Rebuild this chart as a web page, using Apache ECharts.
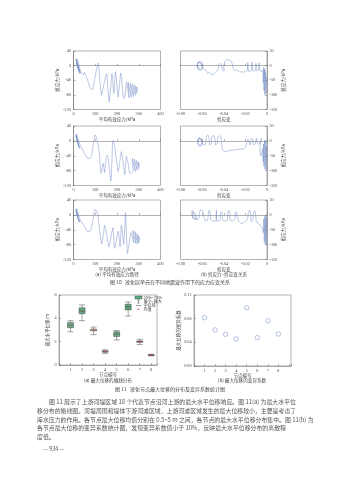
<!DOCTYPE html>
<html><head><meta charset="utf-8">
<script src="https://cdn.jsdelivr.net/npm/echarts@6/dist/echarts.min.js"></script>
<style>html,body{margin:0;padding:0;background:#fff}#c{width:339px;height:480px}</style>
</head><body><div id="c"></div>
<script>
// ---------- data ----------
const pathTicksX = [0, 100, 200, 300, 400];
const pathTicksY = [-120, -80, -40, 0, 40];
const strainTicksX = [-0.08, -0.06, -0.04, -0.02, 0];
const strainTicksY = [-150, -100, -50, 0, 50];

// (a) stress paths: [mean effective stress kPa, shear stress kPa]
const pathWave1 = [[296,-67],[290,-58],[292,-76],[282,-54],[285,-81],[272,-50],[276,-85],[262,-48],[266,-87],[252,-46],[255,-88],[244,-45],
[236,-86],[230,-90],[224,-55],[217,-20],[211,-55],[205,-86],[199,-50],[193,-17],[189,-45],[186,-76],[181,-48],[177,-22],[171,-60],[164,-99],[158,-60],[152,-22],[140,-50],[129,-81],[121,-40],[114,7],[108,-5],[102,-22],[92,-55],[84,-66],[76,-60],[66,-42],[58,-28],[50,-18],[45,-25],[40,-22],
[34,-18],[28,-6],[22,8],[17,19],[14,14],[16,2],[22,-12],[30,-22],[26,-14],[19,0],[14,12],[12,18],[15,8],[21,-6],[27,-18],[33,-20],[24,-8],[17,6],[13,16],[16,12],[22,-2],[28,-14],[20,-6],[15,4]];
const pathWave2 = [[305,-67],[298,-57],[301,-75],[290,-53],[293,-79],[280,-49],[284,-82],[270,-47],[274,-81],
[259,-87],[251,-60],[243,-42],[239,-70],[236,-91],[228,-55],[220,-29],[212,-60],[205,-82],[196,-45],[188,-10],[181,1],[177,-50],[172,-108],[165,-75],[156,-38],[150,-45],[143,-85],[136,-60],[127,-87],[118,-30],[108,5],[99,16],[92,-5],[84,-35],[75,-47],[65,-47],[55,-38],[45,-28],[38,-20],
[32,-14],[26,-4],[20,8],[15,18],[12,15],[14,4],[20,-8],[27,-18],[23,-10],[17,2],[12,14],[11,17],[14,8],[19,-4],[25,-16],[29,-20],[21,-6],[16,6],[12,12],[15,10],[20,-2]];
const pathWave3 = [[305,-67],[299,-56],[302,-75],[292,-50],[295,-78],[283,-45],[287,-77],[273,-42],[277,-75],[264,-48],
[255,-80],[248,-104],[244,-60],[239,6],[235,-40],[231,-79],[226,-55],[220,-28],[217,-60],[214,-86],[210,-60],[205,-44],[197,-70],[189,-90],[185,-60],[181,-35],[172,-60],[163,-86],[153,-55],[143,-28],[137,-55],[130,-79],[120,-40],[110,5],[99,15],[92,-5],[84,-30],[74,-45],[65,-45],[55,-35],[45,-26],[38,-20],
[32,-15],[26,-5],[20,7],[15,17],[12,14],[14,3],[20,-9],[27,-19],[22,-10],[16,3],[12,13],[11,16],[14,7],[19,-5],[25,-17],[30,-19],[21,-7],[16,5],[12,11],[15,9],[20,-3]];

// (b) stress-strain: [shear strain, shear stress kPa]
const loopWave1 = [[0,-67],[-0.0005,-40],[-0.001,-95],[-0.0015,-20],[-0.002,-100],[-0.0022,-10],[-0.0028,-85],[-0.003,-5],[-0.0035,-60],[-0.004,-15],[-0.005,-20],
[-0.0065,-18],[-0.0072,10],[-0.0078,-15],[-0.0095,-17],[-0.0102,8],[-0.0108,-17],[-0.013,-18],[-0.0138,12],[-0.0145,-16],[-0.017,-20],[-0.0178,10],[-0.0185,-18],[-0.022,-22],[-0.026,-20],[-0.028,-14],[-0.0295,-18],
[-0.031,-12],[-0.032,5],[-0.034,18],[-0.037,20],[-0.039,14],[-0.040,-5],[-0.0395,-18],[-0.041,-16],[-0.042,0],[-0.043,8],[-0.0445,3],[-0.045,-12],[-0.047,-20],[-0.049,-28],[-0.051,-32],[-0.053,-22],[-0.055,-26],[-0.057,-14],
[-0.059,-10],[-0.061,5],[-0.0635,12],[-0.0645,5],[-0.0635,-12],[-0.061,-16],[-0.0595,-5],[-0.06,10],[-0.062,14],[-0.064,8],[-0.0645,-8],[-0.0625,-14],[-0.06,-8],[-0.0605,6],[-0.063,13],[-0.0642,0],[-0.0625,-10]];
const loopWave2 = [[0,-67],[-0.0004,-20],[-0.0008,-97],[-0.0012,0],[-0.0018,-95],[-0.0022,3],[-0.0028,-85],[-0.0032,-10],[-0.0036,-70],[-0.004,-25],[-0.0055,-50],[-0.0065,-30],[-0.006,-5],[-0.005,8],[-0.0075,-12],[-0.009,-5],[-0.0098,8],[-0.0108,-10],[-0.0125,-14],[-0.0132,5],[-0.0145,8],[-0.0152,-8],[-0.0158,-14],[-0.0168,0],[-0.0178,6],[-0.019,-10],[-0.0205,-25],[-0.025,-28],[-0.03,-30],[-0.035,-33],[-0.0395,-36],[-0.041,-30],[-0.042,-10],[-0.0425,10],[-0.044,18],[-0.0455,12],[-0.0462,-10],[-0.0475,-14],[-0.048,5],[-0.0495,19],[-0.051,14],[-0.0515,-8],[-0.053,-14],[-0.0535,5],[-0.0545,20],[-0.056,15],[-0.0565,-5],[-0.058,-15],[-0.0595,-10],[-0.0605,2],[-0.062,9],[-0.0635,6],[-0.064,-8],[-0.0625,-18],[-0.0605,-14],[-0.0598,-2],[-0.0612,8],[-0.063,10],[-0.0642,0],[-0.0635,-12],[-0.0615,-16],[-0.06,-6],[-0.061,6],[-0.0628,9],[-0.0638,-4]];
const loopWave3 = [[0,-67],[-0.0004,-10],[-0.0008,-102],[-0.0012,0],[-0.0016,-98],[-0.002,-5],[-0.0025,-90],[-0.003,-15],[-0.0035,-60],[-0.005,-40],[-0.008,-30],[-0.0098,-23],[-0.0105,0],[-0.0112,14],[-0.0125,10],[-0.013,-15],[-0.0145,-23],[-0.015,0],[-0.0158,16],[-0.017,12],[-0.0178,-8],[-0.0192,-20],[-0.021,-25],[-0.024,-29],[-0.026,-22],[-0.0275,-5],[-0.0282,10],[-0.0292,8],[-0.0298,-15],[-0.032,-20],[-0.034,-18],[-0.0345,5],[-0.0352,15],[-0.0362,10],[-0.0366,-17],[-0.039,-20],[-0.041,-18],[-0.0414,2],[-0.0422,10],[-0.043,4],[-0.0435,-18],[-0.0455,-22],[-0.0466,-20],[-0.0468,15],[-0.047,-20],[-0.05,-21],[-0.052,-15],[-0.0525,8],[-0.0535,16],[-0.0545,-5],[-0.055,-19],[-0.057,-20],[-0.0585,-5],[-0.0595,12],[-0.061,18],[-0.0625,8],[-0.063,-10],[-0.0645,-17],[-0.066,-12],[-0.0672,2],[-0.0685,12],[-0.0695,14],[-0.069,-2],[-0.067,-16],[-0.065,-14],[-0.066,0],[-0.068,10],[-0.0693,6],[-0.0688,-10],[-0.0665,-12]];

// box plot: node number, [min, Q1, median, Q3, max], mean
const nodeIds = [1, 2, 3, 4, 5, 6, 7, 8];
const dispMin = [2.85, 3.8, 2.6, 1.0, 2.15, 4.2, 1.75, 0.78];
const dispQ1 = [3.2, 4.4, 2.92, 1.1, 2.45, 4.72, 1.95, 0.82];
const dispMedian = [3.42, 4.62, 3.0, 1.15, 2.65, 5.0, 2.0, 0.85];
const dispQ3 = [3.65, 4.9, 3.08, 1.22, 2.85, 5.2, 2.06, 0.88];
const dispMax = [3.8, 5.15, 3.25, 1.3, 2.95, 5.4, 2.2, 0.92];
const dispMean = [3.42, 4.62, 3.0, 1.15, 2.65, 4.98, 2.0, 0.85];
const boxColors = ['#6db58c', '#5dad84', '#cfcabd', '#a7b3bd', '#60b08a', '#59aa80', '#8d7275', '#c66c7c'];
// coefficient of variation
const dispCV = [0.0816, 0.061, 0.0535, 0.0456, 0.0985, 0.048, 0.0765, 0.054];

// ---------- layout ----------
const NUM = 'Liberation Serif';
const CJK = 'Noto Sans CJK SC';
const TXT = '#444';
const AX = '#666';
const LINE = '#6683c4';

const grids = [
  {left: 73.5, top: 51, width: 87, height: 58.5},
  {left: 180.5, top: 51, width: 86.5, height: 58.5},
  {left: 73.5, top: 126, width: 87, height: 59.5},
  {left: 180.5, top: 126, width: 86.5, height: 59.5},
  {left: 73.5, top: 200, width: 87, height: 59.5},
  {left: 180.5, top: 200, width: 86.5, height: 59.5},
  {left: 59, top: 295, width: 98, height: 70},
  {left: 194, top: 295, width: 97, height: 71}
].map(g => Object.assign({show: true, borderColor: AX, borderWidth: 0.5, backgroundColor: 'transparent'}, g));

function axisBase(extra) {
  return Object.assign({
    type: 'value',
    axisLine: {show: true, lineStyle: {color: AX, width: 0.5}},
    axisTick: {show: true, inside: true, length: 2, lineStyle: {color: AX, width: 0.5}},
    splitLine: {show: false},
    axisLabel: {fontSize: 4.2, color: TXT, fontFamily: NUM, margin: 2.5},
    nameTextStyle: {fontSize: 4.5, color: TXT, fontFamily: CJK},
    nameLocation: 'middle'
  }, extra);
}

const pathX = i => axisBase({gridIndex: i, min: pathTicksX[0], max: pathTicksX[pathTicksX.length-1], interval: 100, name: '平均有效应力/kPa', nameGap: 8});
const pathY = i => axisBase({gridIndex: i, min: pathTicksY[0], max: pathTicksY[pathTicksY.length-1], interval: 40, name: '剪应力/kPa', nameGap: 11});
const strainX = (i, nm) => axisBase({gridIndex: i, min: strainTicksX[0], max: 0, interval: 0.02, name: nm, nameGap: 8,
  axisLabel: {fontSize: 4.2, color: TXT, fontFamily: NUM, margin: 2.5, formatter: v => Math.abs(v) < 1e-9 ? '0' : v.toFixed(2)}});
const strainY = i => axisBase({gridIndex: i, position: 'right', min: strainTicksY[0], max: 50, interval: 50, name: '剪应力/kPa', nameGap: 12});

const xAxes = [pathX(0), strainX(1, '剪应变'), pathX(2), strainX(3, '剪应变'), pathX(4), strainX(5, '剪应变'),
  axisBase({gridIndex: 6, min: 0, max: 8.5, interval: 1, name: '节点编号', nameGap: 7.5,
    axisLabel: {fontSize: 4.2, color: TXT, fontFamily: NUM, margin: 2.5, formatter: v => (Number.isInteger(v) && v >= 1 && v <= 8) ? String(v) : ''}}),
  axisBase({gridIndex: 7, min: 0, max: 9.2, interval: 1, name: '节点编号', nameGap: 7.5,
    axisLabel: {fontSize: 4.2, color: TXT, fontFamily: NUM, margin: 2.5, formatter: v => (Number.isInteger(v) && v >= 1 && v <= 8) ? String(v) : ''}})
];
const yAxes = [pathY(0), strainY(1), pathY(2), strainY(3), pathY(4), strainY(5),
  axisBase({gridIndex: 6, min: 0, max: 6, interval: 2, name: '最大水平位移/m', nameGap: 9}),
  axisBase({gridIndex: 7, min: 0, max: 0.12, interval: 0.04, name: '最大位移的变异系数', nameGap: 13,
    axisLabel: {fontSize: 4.2, color: TXT, fontFamily: NUM, margin: 2.5, formatter: v => v.toFixed(2)}})
];

function curve(i, data) {
  return {type: 'line', xAxisIndex: i, yAxisIndex: i, data: data, showSymbol: false, smooth: 0.2,
    lineStyle: {color: LINE, width: 0.5, opacity: 0.9}, silent: true, animation: false};
}

const boxData = nodeIds.map((n, k) => ({
  value: [n, dispMin[k], dispQ1[k], dispMedian[k], dispQ3[k], dispMax[k]],
  itemStyle: {color: boxColors[k], borderColor: '#4a4a4a', borderWidth: 0.5}
}));

const series = [
  curve(0, pathWave1), curve(1, loopWave1), curve(2, pathWave2), curve(3, loopWave2), curve(4, pathWave3), curve(5, loopWave3),
  {type: 'boxplot', xAxisIndex: 6, yAxisIndex: 6, data: boxData, boxWidth: [6, 6], encode: {x: 0, y: [1, 2, 3, 4, 5]}, animation: false},
  {type: 'scatter', xAxisIndex: 6, yAxisIndex: 6, data: nodeIds.map((n, k) => [n, dispMean[k]]), symbol: 'circle', symbolSize: 1.6,
    itemStyle: {color: '#e03030'}, animation: false, z: 5},
  {type: 'scatter', xAxisIndex: 7, yAxisIndex: 7, data: nodeIds.map((n, k) => [n, dispCV[k]]), symbol: 'circle', symbolSize: 4.5,
    itemStyle: {color: 'transparent', borderColor: LINE, borderWidth: 0.6}, animation: false}
];

function txt(x, y, s, size, align, fill) {
  return {type: 'text', x: x, y: y, silent: true,
    style: {text: s, fontSize: size, fill: fill || TXT, fontFamily: CJK, align: align || 'left', verticalAlign: 'middle'}};
}

const para = [
  ['图 11 展示了上游河堤区域 18 个代表节点沿河上游的最大水平位移响应。图 11(a) 为最大水平位', 49],
  ['移分布的箱线图。河堤周围和堤体下游河滩区域，上游河滩区域发生的最大位移较小，主要是考虑了', 37],
  ['库水压力的作用。各节点最大位移均值分别在 0.5~5 m 之间，各节点的最大水平位移分布集中。图 11(b) 为', 37],
  ['各节点最大位移的变异系数统计图，发现变异系数值小于 10%，反映最大水平位移分布的离散程', 37],
  ['度低。', 37]
];
const paraY = [402, 411, 419.5, 428, 437];

const graphics = [
  txt(117, 274, '(a) 平均有效应力路径', 4.6, 'center'),
  txt(224, 274, '(b) 剪应力–剪应变关系', 4.6, 'center'),
  txt(170, 282.5, '图 10   液化层单元在不同地震波作用下的应力应变关系', 5, 'center'),
  txt(108, 380, '(a) 最大位移的箱线分布', 4.6, 'center'),
  txt(242, 380, '(b) 最大位移的变异系数', 4.6, 'center'),
  txt(170, 389, '图 11   液化节点最大位移的分布及变异系数统计图', 5, 'center'),
  // box legend
  {type: 'rect', shape: {x: 135, y: 296, width: 7, height: 3}, style: {fill: '#5dad84', stroke: '#333', lineWidth: 0.4}, silent: true},
  txt(143.5, 297.5, '25%~75%', 4, 'left'),
  {type: 'line', shape: {x1: 138.5, y1: 300, x2: 138.5, y2: 303}, style: {stroke: '#333', lineWidth: 0.5}, silent: true},
  {type: 'line', shape: {x1: 137.3, y1: 300, x2: 139.7, y2: 300}, style: {stroke: '#333', lineWidth: 0.5}, silent: true},
  {type: 'line', shape: {x1: 137.3, y1: 303, x2: 139.7, y2: 303}, style: {stroke: '#333', lineWidth: 0.5}, silent: true},
  txt(143.5, 301.5, '最小~最大', 4, 'left'),
  {type: 'line', shape: {x1: 136, y1: 305.5, x2: 141, y2: 305.5}, style: {stroke: '#333', lineWidth: 0.5}, silent: true},
  txt(143.5, 305.5, '中位线', 4, 'left'),
  {type: 'circle', shape: {cx: 138.5, cy: 309.3, r: 0.8}, style: {fill: '#e03030'}, silent: true},
  txt(143.5, 309.3, '均值', 4, 'left'),
  txt(43, 449, '— 934 —', 5.5, 'left', '#555')
];
para.forEach((p, i) => graphics.push(txt(p[1], paraY[i], p[0], 5.9, 'left', '#555')));

const chart = echarts.init(document.getElementById('c'), null, {renderer: 'canvas'});
chart.setOption({
  backgroundColor: '#fff',
  animation: false,
  grid: grids,
  xAxis: xAxes,
  yAxis: yAxes,
  series: series,
  graphic: graphics
});
</script>
</body></html>
